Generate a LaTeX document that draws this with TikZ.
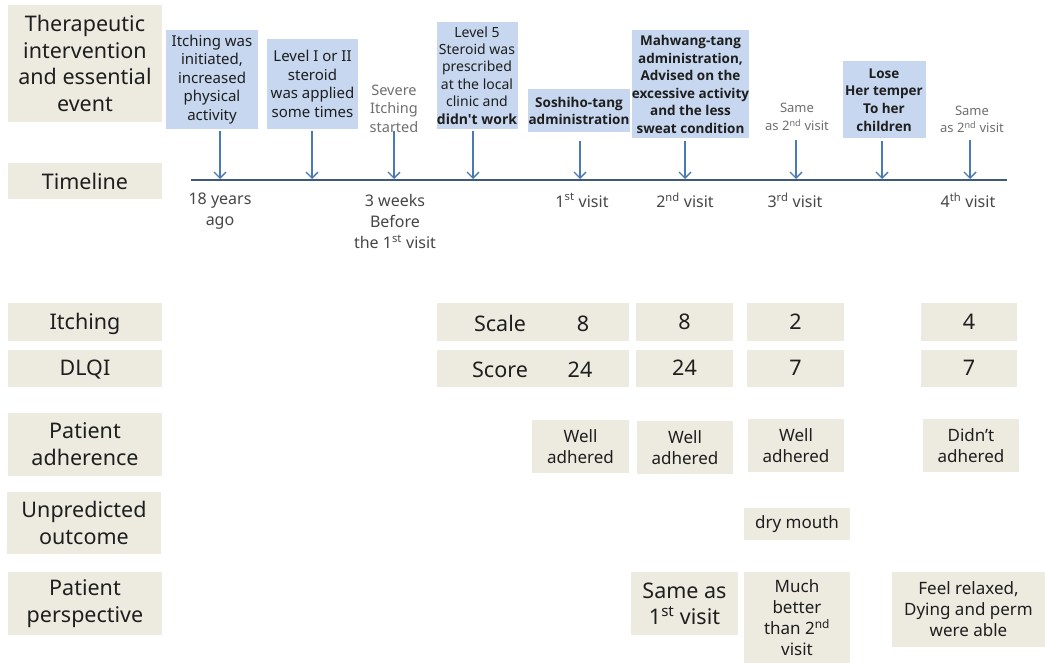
\documentclass[tikz,border=0pt]{standalone}
\usepackage{fontspec}
\setmainfont{Noto Sans}
\newfontfamily\boldfam{Open Sans}
\usetikzlibrary{arrows.meta}
\definecolor{beige}{RGB}{237,234,224}
\definecolor{bluebox}{RGB}{198,215,239}
\definecolor{arrowblue}{RGB}{74,122,181}
\definecolor{lineblue}{RGB}{62,90,122}
\definecolor{txt}{RGB}{30,30,30}
\definecolor{graytxt}{RGB}{110,110,110}
\definecolor{tltxt}{RGB}{70,70,70}
\newcommand{\bd}[1]{{\boldfam\bfseries #1}}
\tikzset{
  lab/.style={fill=beige, inner sep=0pt, align=center, text=txt, font=\fontsize{21.5}{26.5}\selectfont},
  onelab/.style={lab, text height=15pt, text depth=0pt},
  cell/.style={fill=beige, inner sep=0pt, align=center, text=txt, font=\fontsize{17}{21}\selectfont},
  bigcell/.style={fill=beige, inner sep=0pt, align=center, text=txt, font=\fontsize{21.5}{26}\selectfont},
  ev/.style={fill=bluebox, inner sep=0pt, align=center, text=txt, font=\fontsize{15}{18.5}\selectfont},
  evb/.style={fill=bluebox, inner sep=0pt, align=center, text=txt, font=\fontsize{13.5}{17.6}\selectfont\boldfam\bfseries},
  grayev/.style={inner sep=0pt, align=center, text=graytxt, font=\fontsize{14.5}{18.5}\selectfont},
  grayev2/.style={inner sep=0pt, align=center, text=graytxt, font=\fontsize{13}{17.5}\selectfont},
  tl/.style={inner sep=0pt, align=center, text=tltxt, font=\fontsize{16}{21}\selectfont},
  arr/.style={draw=arrowblue, line width=1.4pt, -{Straight Barb[length=6pt,width=12pt]}},
}
\begin{document}
\begin{tikzpicture}[x=1pt,y=-1pt]
\useasboundingbox (0,0) rectangle (1045,663);
% left labels
\node[lab, minimum width=154pt, minimum height=117pt] (ther) at (85,63.5) {Therapeutic\\intervention\\and essential\\event};
\node[lab, minimum width=154pt, minimum height=36pt] (tlab) at (85,181) {Timeline};
\node[onelab, minimum width=154pt, minimum height=37pt] (itch) at (85,322) {Itching};
\node[onelab, minimum width=154pt, minimum height=37pt] (dlqi) at (85,368) {DLQI};
\node[lab, minimum width=154pt, minimum height=63pt] (adh) at (85,444) {Patient\\adherence};
\node[lab, minimum width=154pt, minimum height=62pt] (unp) at (84,523) {Unpredicted\\outcome};
\node[lab, minimum width=154pt, minimum height=63pt] (persp) at (85,603.5) {Patient\\perspective};
% timeline
\coordinate (tlstart) at (191,180.5);
\coordinate (tlend) at (1007,180.5);
\draw[draw=lineblue, line width=2pt] (tlstart) -- (tlend);
\foreach \n/\x in {1/220,2/312,3/394,4/473,5/580,6/685,7/796,8/882,9/970}
  \coordinate (t\n) at (\x,179);
% events
\node[ev, minimum width=92pt, minimum height=99pt] (b1) at (212,79.5) {Itching was\\initiated,\\increased\\physical\\activity};
\node[ev, minimum width=91pt, minimum height=90pt] (b2) at (312.5,84) {Level I or II\\steroid\\was applied\\some times};
\node[grayev] (b3) at (394,108.5) {Severe\\Itching\\started};
\node[ev, minimum width=81pt, minimum height=107pt, font=\fontsize{14}{17.5}\selectfont] (b4) at (477,75.5) {Level 5\\Steroid was\\prescribed\\at the local\\clinic and\\\bd{didn't work}};
\node[evb, minimum width=102pt, minimum height=43pt] (b5) at (579,111) {Soshiho-tang\\administration};
\node[evb, minimum width=115pt, minimum height=108pt] (b6) at (690.5,84.5) {Mahwang-tang\\administration,\\Advised on the\\excessive activity\\and the less\\sweat condition};
\node[grayev2] (b7) at (797,117) {Same\\as 2\textsuperscript{nd} visit};
\node[evb, minimum width=83pt, minimum height=77pt] (b8) at (884,100) {Lose\\Her temper\\To her\\children};
\node[grayev2] (b9) at (972,119.5) {Same\\as 2\textsuperscript{nd} visit};
% arrows
\draw[arr] (b1.south -| t1) ++(0,2) -- (t1);
\draw[arr] (b2.south -| t2) ++(0,2) -- (t2);
\draw[arr] (t3 |- 0,131) -- (t3);
\draw[arr] (b4.south -| t4) ++(0,2) -- (t4);
\draw[arr] (b5.south -| t5) ++(0,8) -- (t5);
\draw[arr] (b6.south -| t6) ++(0,2) -- (t6);
\draw[arr] (t7 |- 0,140) -- (t7);
\draw[arr] (b8.south -| t8) ++(0,2) -- (t8);
\draw[arr] (t9 |- 0,140) -- (t9);
% timeline labels
\node[tl] (l1) at (220,211) {18 years\\ago};
\node[tl] (l3) at (395,221.5) {3 weeks\\Before\\the 1\textsuperscript{st} visit};
\node[tl] (l5) at (582,200.5) {1\textsuperscript{st} visit};
\node[tl] (l6) at (685,200.5) {2\textsuperscript{nd} visit};
\node[tl] (l7) at (795,200.5) {3\textsuperscript{rd} visit};
\node[tl] (l9) at (968,200.5) {4\textsuperscript{th} visit};
% itching row
\node[bigcell, minimum width=192pt, minimum height=37pt] (i1) at (533,322) {};
\node[font=\fontsize{21.5}{26}\selectfont, text=txt, inner sep=0pt] (i1a) at (500,323.5) {Scale};
\node[font=\fontsize{21.5}{26}\selectfont, text=txt, inner sep=0pt] (i1b) at (583,323.5) {8};
\node[bigcell, minimum width=97pt, minimum height=37pt] (i2) at (684.5,322) {8};
\node[bigcell, minimum width=97pt, minimum height=37pt] (i3) at (795.5,322) {2};
\node[bigcell, minimum width=96pt, minimum height=37pt] (i4) at (969,322) {4};
% dlqi row
\node[bigcell, minimum width=192pt, minimum height=37pt] (d1) at (533,368) {};
\node[font=\fontsize{21.5}{26}\selectfont, text=txt, inner sep=0pt] (d1a) at (500,369.5) {Score};
\node[font=\fontsize{21.5}{26}\selectfont, text=txt, inner sep=0pt] (d1b) at (580,369.5) {24};
\node[bigcell, minimum width=97pt, minimum height=37pt] (d2) at (684.5,368) {24};
\node[bigcell, minimum width=97pt, minimum height=37pt] (d3) at (795.5,368) {7};
\node[bigcell, minimum width=96pt, minimum height=37pt] (d4) at (969,368) {7};
% adherence
\node[cell, minimum width=97pt, minimum height=53pt] (a1) at (580.5,446.5) {Well\\adhered};
\node[cell, minimum width=96pt, minimum height=53pt] (a2) at (685,447.5) {Well\\adhered};
\node[cell, minimum width=96pt, minimum height=53pt] (a3) at (796,445.5) {Well\\adhered};
\node[cell, minimum width=96pt, minimum height=53pt] (a4) at (971,445.5) {Didn't\\adhered};
% unpredicted
\node[cell, minimum width=106pt, minimum height=32pt] (u3) at (797,524) {dry mouth};
% perspective
\node[bigcell, minimum width=107pt, minimum height=63pt] (p2) at (684.5,603.5) {Same as\\1\textsuperscript{st} visit};
\node[cell, minimum width=106pt, minimum height=91pt] (p3) at (797,617.5) {Much\\better\\than 2\textsuperscript{nd}\\visit};
\node[cell, minimum width=153pt, minimum height=75pt] (p4) at (968.5,609.5) {Feel relaxed,\\Dying and perm\\were able};
\end{tikzpicture}
\end{document}
